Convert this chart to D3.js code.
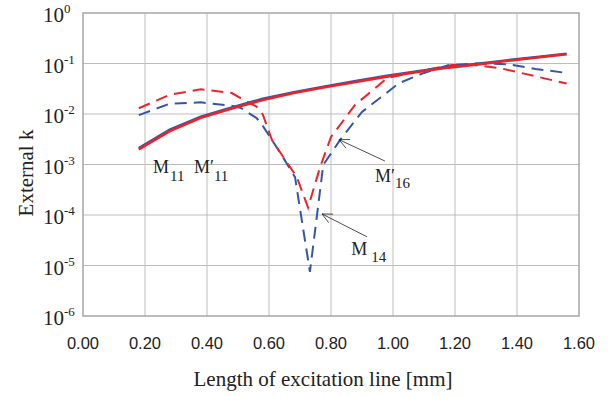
<!DOCTYPE html>
<html>
<head>
<meta charset="utf-8">
<script src="https://cdn.jsdelivr.net/npm/d3@7"></script>
<style>
  body { margin: 0; background: #fff; }
  svg { display: block; }
  .serif { font-family: "Liberation Serif", "Times New Roman", "DejaVu Serif", serif; }
  .sans { font-family: "Liberation Sans", Arial, sans-serif; }
</style>
</head>
<body>
<svg id="chart" width="612" height="396"></svg>
<script>
// x ticks [mm] and y decades
var xTicks = [0, 0.2, 0.4, 0.6, 0.8, 1.0, 1.2, 1.4, 1.6];
var yExps = [0, -1, -2, -3, -4, -5, -6];

// M11 (blue solid) and M'11 (red solid)
var m11X = [0.18, 0.28, 0.38, 0.48, 0.58, 0.68, 0.78, 0.88, 0.98, 1.08, 1.18, 1.28, 1.38, 1.48, 1.56];
var m11Y = [0.0021, 0.0049, 0.0088, 0.0135, 0.020, 0.027, 0.035, 0.045, 0.057, 0.070, 0.086, 0.100, 0.118, 0.138, 0.156];
var m11pY = [0.0020, 0.0046, 0.0084, 0.0129, 0.019, 0.026, 0.034, 0.043, 0.055, 0.068, 0.083, 0.097, 0.115, 0.135, 0.153];

// M14 (blue dashed)
var m14X = [0.18, 0.28, 0.38, 0.48, 0.51, 0.56, 0.58, 0.645, 0.684, 0.732, 0.775, 0.83, 0.90, 1.02, 1.10, 1.18, 1.27, 1.37, 1.46, 1.56];
var m14Y = [0.0095, 0.016, 0.017, 0.0145, 0.0131, 0.0083, 0.0058, 0.0014, 0.00056, 0.0000075, 0.00098, 0.0031, 0.011, 0.041, 0.065, 0.093, 0.100, 0.097, 0.078, 0.065];

// M'16 (red dashed)
var m16X = [0.18, 0.28, 0.38, 0.48, 0.50, 0.56, 0.58, 0.61, 0.69, 0.726, 0.765, 0.80, 0.877, 0.98, 1.07, 1.19, 1.26, 1.345, 1.47, 1.56];
var m16Y = [0.013, 0.024, 0.031, 0.026, 0.022, 0.014, 0.0098, 0.0030, 0.00056, 0.00014, 0.0009, 0.0035, 0.015, 0.051, 0.068, 0.093, 0.093, 0.081, 0.054, 0.040];

var blue = '#3556a8',
    red = '#ee2229';

var svg = d3.select('#chart');

var x = d3.scaleLinear().domain([0, 1.6]).range([83, 579]);
var y = d3.scaleLog().domain([1e-6, 1]).range([316, 13]);

// grid
svg.append('g')
    .selectAll('line')
    .data(xTicks.slice(1, -1))
    .enter().append('line')
        .attr('x1', d => x(d)).attr('x2', d => x(d))
        .attr('y1', y(1)).attr('y2', y(1e-6))
        .attr('stroke', '#bdbdbd').attr('stroke-width', 1);

svg.append('g')
    .selectAll('line')
    .data(yExps.slice(1, -1))
    .enter().append('line')
        .attr('x1', x(0)).attr('x2', x(1.6))
        .attr('y1', d => y(Math.pow(10, d))).attr('y2', d => y(Math.pow(10, d)))
        .attr('stroke', '#bdbdbd').attr('stroke-width', 1);

svg.append('rect')
    .attr('x', x(0)).attr('y', y(1))
    .attr('width', x(1.6) - x(0)).attr('height', y(1e-6) - y(1))
    .attr('fill', 'none').attr('stroke', '#a6a6a6').attr('stroke-width', 1.5);

// x tick labels
svg.append('g')
    .selectAll('text')
    .data(xTicks)
    .enter().append('text')
        .attr('class', 'sans')
        .attr('x', d => x(d))
        .attr('y', 349)
        .attr('text-anchor', 'middle')
        .attr('font-size', 16.5)
        .attr('fill', '#222')
        .text(d => d.toFixed(2));

// y tick labels 10^n
var yl = svg.append('g')
    .selectAll('text')
    .data(yExps)
    .enter().append('text')
        .attr('class', 'serif')
        .attr('x', 43)
        .attr('y', d => y(Math.pow(10, d)) + 9)
        .attr('font-size', 21)
        .attr('fill', '#222');
yl.append('tspan').text('10');
yl.append('tspan')
    .attr('font-size', 13)
    .attr('dy', -9)
    .text(d => d === 0 ? '0' : '-' + Math.abs(d));

// axis titles
svg.append('text')
    .attr('class', 'serif')
    .attr('x', 323).attr('y', 386)
    .attr('text-anchor', 'middle')
    .attr('font-size', 21)
    .attr('fill', '#222')
    .text('Length of excitation line [mm]');

svg.append('text')
    .attr('class', 'serif')
    .attr('transform', 'translate(33,173) rotate(-90)')
    .attr('text-anchor', 'middle')
    .attr('font-size', 21)
    .attr('fill', '#222')
    .text('External k');

// series
var series = [
    {xs: m14X, ys: m14Y, color: blue, dash: '12,7', width: 2},
    {xs: m16X, ys: m16Y, color: red, dash: '12,7', width: 2},
    {xs: m11X, ys: m11Y, color: blue, dash: null, width: 2.6},
    {xs: m11X, ys: m11pY, color: red, dash: null, width: 2.6}
];

var line = d3.line()
    .x(d => x(d[0]))
    .y(d => y(d[1]));

svg.append('g')
    .selectAll('path')
    .data(series)
    .enter().append('path')
        .attr('d', s => line(d3.zip(s.xs, s.ys)))
        .attr('fill', 'none')
        .attr('stroke', s => s.color)
        .attr('stroke-width', s => s.width)
        .attr('stroke-dasharray', s => s.dash);

// annotations
function label(px, py, parts) {
    var t = svg.append('text')
        .attr('class', 'serif')
        .attr('x', x(px)).attr('y', y(py))
        .attr('font-size', 18)
        .attr('fill', '#222');
    parts.forEach(p => {
        t.append('tspan')
            .attr('font-size', p.sub ? 15 : 18)
            .attr('dy', p.dy || 0)
            .attr('dx', p.dx || 0)
            .text(p.text);
    });
}

label(0.226, 6.8e-4, [{text: 'M'}, {text: '11', sub: true, dy: 8, dx: 1}]);
label(0.358, 6.8e-4, [{text: 'M\u2032'}, {text: '11', sub: true, dy: 8}]);
label(0.942, 4.5e-4, [{text: 'M\u2032'}, {text: '16', sub: true, dy: 6}]);
label(0.865, 1.6e-5, [{text: 'M'}, {text: '14', sub: true, dy: 7, dx: 4}]);

function arrow(x0, y0, x1, y1) {
    var ax = x(x0), ay = y(y0), bx = x(x1), by = y(y1);
    var ang = Math.atan2(ay - by, ax - bx);
    var len = 11, spread = 0.45;
    svg.append('line')
        .attr('x1', ax).attr('y1', ay).attr('x2', bx).attr('y2', by)
        .attr('stroke', '#222').attr('stroke-width', 0.8);
    [-spread, spread].forEach(a => {
        svg.append('line')
            .attr('x1', bx).attr('y1', by)
            .attr('x2', bx + len * Math.cos(ang + a))
            .attr('y2', by + len * Math.sin(ang + a))
            .attr('stroke', '#222').attr('stroke-width', 0.8);
    });
}

arrow(0.916, 3.7e-5, 0.771, 1.05e-4);
arrow(0.974, 1.17e-3, 0.826, 3.1e-3);
</script>
</body>
</html>
